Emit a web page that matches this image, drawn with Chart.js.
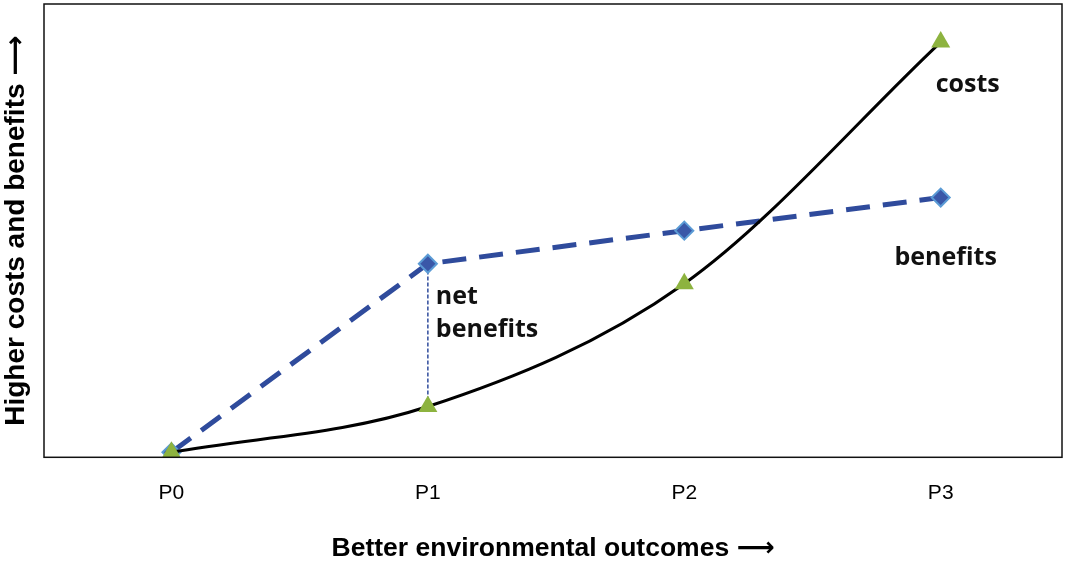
<!DOCTYPE html>
<html>
<head>
<meta charset="utf-8">
<script src="https://cdn.jsdelivr.net/npm/chart.js@4"></script>
<style>
    html, body { margin: 0; padding: 0; background: #fff; }
    #wrap { width: 1072px; height: 562px; }
</style>
</head>
<body>
<div id="wrap"><canvas id="costChart"></canvas></div>
<script>
// ====== DATA ======
const categories = ['P0', 'P1', 'P2', 'P3']
const costs = [1.1, 11.2, 38.3, 91.6]
const benefits = [1.1, 42.7, 50, 57.3]
const netIndex = 1 // where the net benefits gap is marked

const yTitle = 'Higher costs and benefits \u27F6'
const xTitle = 'Better environmental outcomes \u27F6'

const xyCosts = costs.map((v, i) => ({ x: i, y: v }))
const xyBenefits = benefits.map((v, i) => ({ x: i, y: v }))
const xyNet = [
    { x: netIndex, y: costs[netIndex] },
    { x: netIndex, y: benefits[netIndex] },
]

const titleFamily = '"Liberation Sans", Arial, "DejaVu Sans", sans-serif'
const labelFont = '700 25px "Open Sans", "Noto Sans", sans-serif'

// frame round the plot area + the text labels next to the lines
const framePlugin = {
    id: 'frame',
    afterDatasetsDraw(chart) {
        const { ctx, chartArea: a, scales } = chart
        ctx.save()
        ctx.strokeStyle = '#111'
        ctx.lineWidth = 1.5
        ctx.strokeRect(a.left, a.top, a.right - a.left, a.bottom - a.top)

        const px = (i) => scales.x.getPixelForValue(i)
        const py = (v) => scales.y.getPixelForValue(v)
        const last = categories.length - 1

        ctx.fillStyle = '#111'
        ctx.font = labelFont
        ctx.textBaseline = 'middle'
        ctx.textAlign = 'center'
        ctx.fillText('costs', px(last) + 27, py(costs[last]) + 43)
        ctx.fillText('benefits', px(last) + 5, py(benefits[last]) + 60)
        ctx.textAlign = 'left'
        ctx.fillText('net', px(netIndex) + 8, py(benefits[netIndex]) + 33)
        ctx.fillText('benefits', px(netIndex) + 8, py(benefits[netIndex]) + 66)
        ctx.restore()
    },
}

new Chart(document.getElementById('costChart'), {
    type: 'line',
    data: {
        datasets: [
            {
                label: 'costs',
                data: xyCosts,
                borderColor: '#000',
                borderWidth: 3,
                cubicInterpolationMode: 'monotone',
                pointStyle: 'triangle',
                pointRadius: 11,
                pointBackgroundColor: '#8DB33F',
                pointBorderColor: '#8DB33F',
                pointBorderWidth: 0,
                fill: false,
            },
            {
                label: 'benefits',
                data: xyBenefits,
                borderColor: '#2F4B9C',
                borderWidth: 5,
                borderDash: [24, 13],
                tension: 0,
                pointStyle: 'rectRot',
                pointRadius: 9,
                pointBackgroundColor: '#3A58A8',
                pointBorderColor: '#5B9BD5',
                pointBorderWidth: 2,
                fill: false,
            },
            {
                label: 'net benefits',
                data: xyNet,
                borderColor: '#2F4B9C',
                borderWidth: 1.5,
                borderDash: [4, 2],
                pointRadius: 0,
                fill: false,
            },
        ],
    },
    options: {
        responsive: true,
        maintainAspectRatio: false,
        animation: false,
        layout: {
            autoPadding: false,
            padding: { top: 4, right: 10, left: 0, bottom: 0 },
        },
        plugins: {
            legend: { display: false },
            tooltip: { enabled: false },
        },
        scales: {
            x: {
                type: 'linear',
                min: -0.497,
                max: 3.473,
                afterBuildTicks: (scale) => {
                    scale.ticks = categories.map((c, i) => ({ value: i }))
                },
                ticks: {
                    callback: (v) => categories[v] ?? '',
                    color: '#000',
                    font: { family: '"Liberation Sans", Arial, sans-serif', size: 21 },
                    padding: 23,
                    maxRotation: 0,
                    autoSkip: false,
                },
                grid: { display: false, drawTicks: false },
                border: { display: false },
                title: {
                    display: true,
                    text: xTitle,
                    color: '#000',
                    font: { family: titleFamily, size: 26.5, weight: 'bold', lineHeight: 1 },
                    padding: { top: 7, bottom: 0 },
                },
            },
            y: {
                min: 0,
                max: 100,
                ticks: { display: false },
                grid: { display: false, drawTicks: false },
                border: { display: false },
                title: {
                    display: true,
                    text: yTitle,
                    color: '#000',
                    font: { family: titleFamily, size: 28, weight: 'bold', lineHeight: 1 },
                    padding: { top: 2, bottom: 14 },
                },
            },
        },
    },
    plugins: [framePlugin],
})
</script>
</body>
</html>
